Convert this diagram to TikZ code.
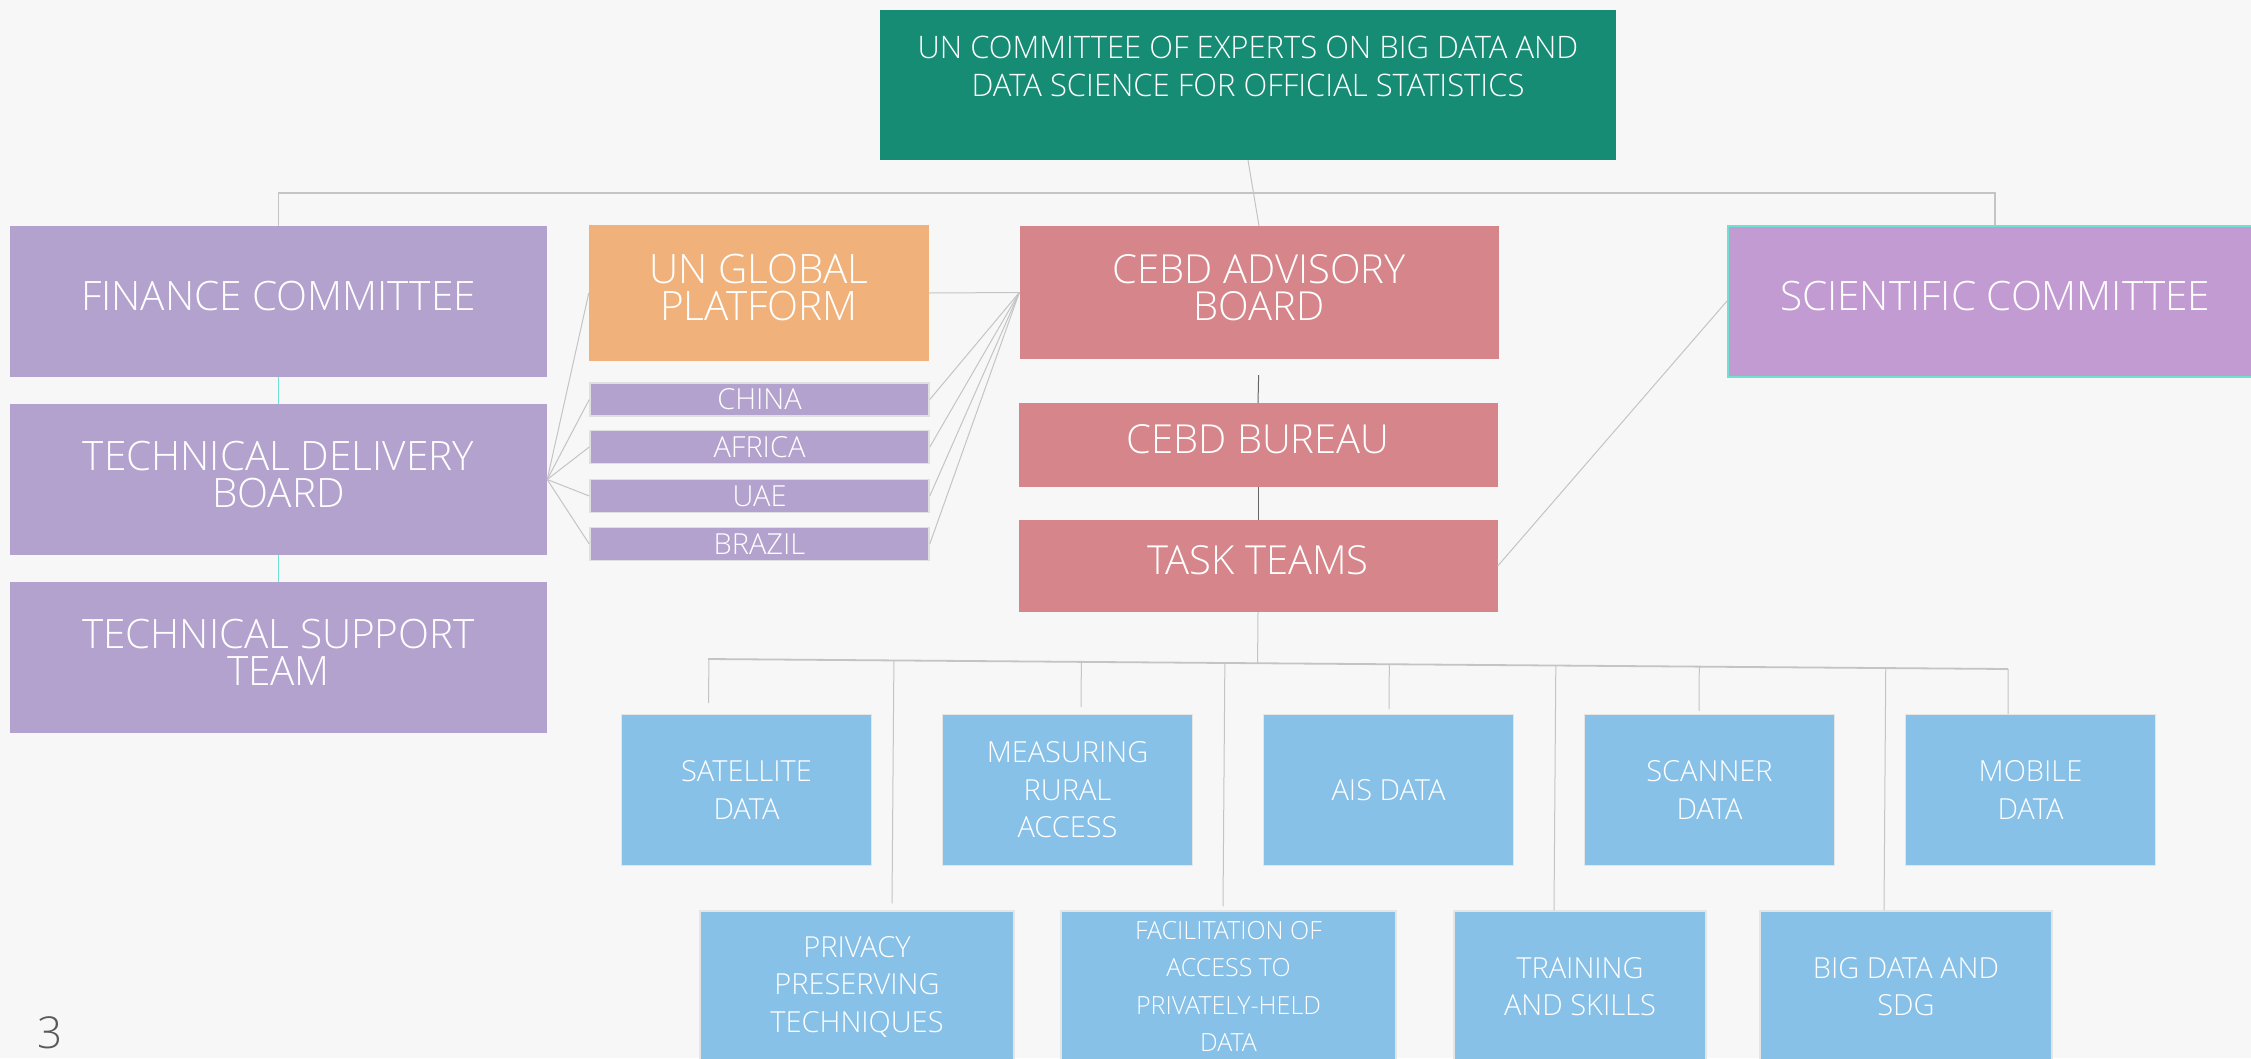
\documentclass[tikz,border=0pt]{standalone}
\usepackage{fontspec}
\setmainfont{Open Sans Light}
\usetikzlibrary{calc}

\definecolor{bgpage}{HTML}{F7F7F7}
\definecolor{cebdgreen}{HTML}{168C74}
\definecolor{lilac}{HTML}{B3A2CE}
\definecolor{apricot}{HTML}{F0B27A}
\definecolor{cebdrose}{HTML}{D6858A}
\definecolor{orchid}{HTML}{C39BD3}
\definecolor{skyblue}{HTML}{88C1E8}
\definecolor{aqua}{HTML}{6FE0D2}
\definecolor{wire}{HTML}{C4C4C4}

\tikzset{
  unit/.style={inner sep=0pt, align=center, text=white},
  lifted/.style={execute at end node={\rule[-11pt]{0pt}{11pt}}},
  topbox/.style={unit, fill=cebdgreen, minimum width=736pt, minimum height=150pt,
                 font=\fontsize{31}{38}\selectfont},
  bigbox/.style={unit, lifted, minimum height=151pt, font=\fontsize{40.5}{37}\selectfont},
  sidebox/.style={bigbox, fill=lilac, minimum width=537pt},
  country/.style={unit, fill=lilac, draw=black!12, line width=1.5pt,
                  minimum width=339pt, minimum height=33pt, font=\fontsize{29}{30}\selectfont},
  roseblock/.style={unit, lifted, fill=cebdrose, minimum width=479pt, font=\fontsize{40}{37}\selectfont},
  databox/.style={unit, fill=skyblue, draw=black!10, line width=1.5pt,
                  minimum height=151pt, font=\fontsize{29}{37.5}\selectfont},
  link/.style={draw=wire, line width=1pt},
  bus/.style={draw=wire, line width=1.8pt},
  stem/.style={draw=black!60, line width=1pt},
  tealline/.style={draw=aqua, line width=1.2pt},
  pagenum/.style={text=black!65, font=\fontsize{44}{44}\selectfont}
}

\begin{document}
\begin{tikzpicture}[x=1pt, y=-1pt]
  \fill[bgpage] (0,0) rectangle (2251,1058);
  \useasboundingbox (0,0) rectangle (2251,1058);

  % top of the chart
  \node at (1248,85) [topbox] (unce) {UN COMMITTEE OF EXPERTS ON BIG DATA AND\\DATA SCIENCE FOR OFFICIAL STATISTICS\\\mbox{}};

  % left column
  \node at (278.5,301.5) [sidebox] (fin) {FINANCE COMMITTEE};
  \node at (278.5,479.5) [sidebox] (tdb) {TECHNICAL DELIVERY\\BOARD};
  \node at (278.5,657.5) [sidebox] (tst) {TECHNICAL SUPPORT\\TEAM};

  % platform and regional hubs
  \node at (759,293) [bigbox, fill=apricot, minimum width=340pt, minimum height=136pt] (ungp) {UN GLOBAL\\PLATFORM};
  \node at (759.5,399.5) [country] (china) {CHINA};
  \node at (759.5,447) [country] (africa) {AFRICA};
  \node at (759.5,496) [country] (uae) {UAE};
  \node at (759.5,544) [country] (brazil) {BRAZIL};

  % CEBD column
  \node at (1259,292.5) [roseblock, minimum height=133pt] (adv) {CEBD ADVISORY\\BOARD};
  \node at (1258,445) [roseblock, minimum height=84pt] (bureau) {CEBD BUREAU};
  \node at (1258,566) [roseblock, minimum height=92pt] (tasks) {TASK TEAMS};

  \node at (1995,301) [bigbox, fill=orchid, draw=aqua, line width=2pt, minimum width=534pt] (sci) {SCIENTIFIC COMMITTEE};

  % task teams, upper row
  \node at (746.5,790) [databox, minimum width=250pt] (sat) {SATELLITE\\DATA};
  \node at (1067.5,790) [databox, minimum width=250pt] (meas) {MEASURING\\RURAL\\ACCESS};
  \node at (1388.5,790) [databox, minimum width=250pt] (ais) {AIS DATA};
  \node at (1709.5,790) [databox, minimum width=250pt] (scan) {SCANNER\\DATA};
  \node at (2030.5,790) [databox, minimum width=250pt] (mob) {MOBILE\\DATA};

  % task teams, lower row
  \node at (857,986.5) [databox, minimum width=314pt] (priv) {PRIVACY\\PRESERVING\\TECHNIQUES};
  \node at (1228.5,986.5) [databox, minimum width=335pt, font=\fontsize{25}{37.5}\selectfont] (facil) {FACILITATION OF\\ACCESS TO\\PRIVATELY-HELD\\DATA};
  \node at (1580,986.5) [databox, minimum width=252pt] (train) {TRAINING\\AND SKILLS};
  \node at (1906,986.5) [databox, minimum width=292pt] (sdg) {BIG DATA AND\\SDG};

  \node at (50,1033) [pagenum] (pgno) {3};

  % connectors
  \coordinate (tophub) at (1248,193);
  \draw[bus] (fin.north) |- (tophub) -| (sci.north);
  \draw[link] (unce.south) -- (adv.north);
  \draw[tealline] (fin.south) -- (tdb.north);
  \draw[tealline] (tdb.south) -- (tst.north);
  \foreach \n in {ungp,china,africa,uae,brazil}{
    \draw[link] (tdb.east) -- (\n.west);
    \draw[link] (adv.west) -- (\n.east);
  }
  \draw[stem, shorten <=16pt] (adv.south) -- (bureau.north);
  \draw[stem] (bureau.south) -- (tasks.north);
  \draw[link] (tasks.east) -- (sci.west);

  \coordinate (busL) at (708,659);
  \coordinate (busR) at (2008,669);
  \draw[bus] (busL) -- (busR);
  \draw[link] (tasks.south) -- ($(busL)!(tasks.south)!(busR)$);
  \foreach \b/\dx/\gap in {sat/-38/11, meas/13.5/7, ais/0.5/5, scan/-10.5/3, mob/-22.5/0,
                           priv/35/7, facil/-5.5/4, train/-26/0, sdg/-22/0}
    \draw[link] ($(busL)!([xshift=\dx pt]\b.north)!(busR)$) -- ([xshift=\dx pt, yshift=\gap pt]\b.north);
\end{tikzpicture}
\end{document}
